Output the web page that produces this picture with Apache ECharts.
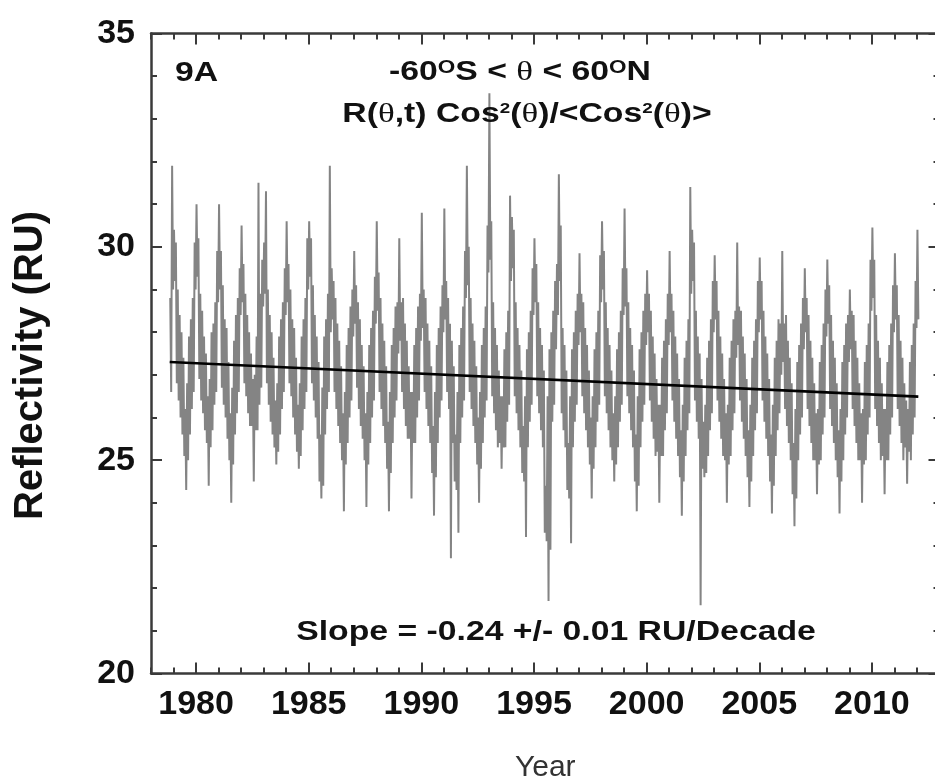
<!DOCTYPE html>
<html><head><meta charset="utf-8">
<script src="https://cdn.jsdelivr.net/npm/echarts@6/dist/echarts.min.js"></script>
<style>html,body{margin:0;padding:0;background:#fff}#c{width:935px;height:776px}</style>
</head><body><div id="c"></div>
<script>
const xTickLabels = [1980, 1985, 1990, 1995, 2000, 2005, 2010];
const yTickLabels = [20, 25, 30, 35];
const trendYears = [1978.83, 2012.06];
const trendValues = [27.30, 26.49];

// semi-monthly reflectivity values (RU)
const r1978 = [28.8,26.6, 31.9,29.0];
const r1979 = [30.4,29.2, 30.1,26.8, 29.0,26.4, 28.4,26.0, 28.0,25.6, 27.4,25.1, 26.2,24.3, 26.8,25.0, 27.9,25.6, 28.3,26.2, 28.8,26.6, 30.1,29.0];
const r1980 = [31.0,29.3, 30.2,26.9, 28.9,26.4, 28.5,26.1, 27.9,25.7, 27.5,25.4, 26.5,24.4, 26.9,25.3, 28.0,25.7, 28.2,26.3, 28.7,26.6, 29.9,28.7];
const r1981 = [31.0,29.0, 29.9,26.7, 29.1,26.3, 28.3,26.0, 28.1,25.5, 27.3,25.0, 26.1,24.0, 26.7,24.9, 27.8,25.6, 28.4,26.1, 28.8,26.6, 29.5,28.4];
const r1982 = [30.5,28.7, 29.6,26.8, 28.9,26.5, 28.4,26.1, 28.0,25.8, 27.5,25.8, 26.9,24.5, 27.0,25.7, 27.9,25.7, 31.5,26.3, 28.9,26.7, 29.7,28.6];
const r1983 = [30.1,28.9, 31.3,26.8, 29.0,26.3, 28.4,25.9, 28.0,25.6, 27.4,25.3, 26.4,24.9, 26.8,25.2, 27.9,25.6, 28.3,26.2, 28.7,26.6, 29.5,28.4];
const r1984 = [30.6,28.7, 29.6,26.8, 29.0,26.5, 28.3,26.0, 28.1,25.6, 27.4,25.2, 26.3,24.8, 26.8,25.1, 27.9,25.7, 28.3,26.2, 28.8,26.6, 30.2,29.0];
const r1985 = [30.6,29.3, 30.2,26.8, 29.1,26.4, 28.4,26.0, 27.9,25.5, 27.3,24.5, 25.6,24.1, 26.7,24.4, 27.9,25.6, 28.3,26.2, 28.9,26.6, 31.9,28.0];
const r1986 = [29.5,28.3, 29.2,26.6, 28.8,26.2, 28.2,25.8, 27.8,25.4, 27.2,25.0, 26.1,23.8, 26.6,24.9, 27.7,25.4, 28.1,26.0, 28.6,26.4, 29.0,27.9];
const r1987 = [29.9,28.2, 29.1,26.7, 28.7,26.2, 28.3,25.8, 27.7,25.5, 27.2,25.0, 26.1,23.9, 26.6,24.9, 27.7,25.4, 28.1,26.0, 28.5,26.4, 29.3,28.2];
const r1988 = [30.6,28.5, 29.4,26.6, 28.8,26.2, 28.2,25.8, 27.8,25.4, 27.2,24.8, 25.9,23.8, 26.6,24.7, 27.7,25.4, 28.1,26.0, 28.6,26.4, 28.7,27.5];
const r1989 = [30.2,27.8, 28.7,26.6, 28.8,26.2, 28.2,25.8, 27.8,25.5, 27.2,25.5, 26.6,24.1, 26.6,25.4, 27.7,25.4, 28.1,26.0, 28.6,26.4, 28.9,27.8];
const r1990 = [30.8,28.1, 29.0,26.6, 28.8,26.2, 28.2,25.8, 27.8,25.4, 27.2,24.7, 25.8,23.7, 26.6,24.6, 27.7,25.4, 28.1,26.0, 28.6,26.4, 29.1,28.0];
const r1991 = [30.9,28.3, 29.2,26.6, 28.8,26.2, 28.2,22.7, 27.8,25.4, 27.2,24.5, 25.6,24.3, 26.6,23.3, 27.7,25.4, 28.1,26.0, 28.6,26.4, 29.9,28.8];
const r1992 = [31.9,29.1, 30.0,26.6, 28.8,26.2, 28.2,25.8, 27.8,25.4, 27.2,24.9, 26.0,24.0, 26.6,24.8, 27.7,25.4, 28.1,26.0, 28.6,26.4, 30.5,29.4];
const r1993 = [33.6,29.7, 30.6,26.5, 28.7,26.1, 28.1,25.7, 27.7,25.3, 27.1,25.4, 26.5,24.8, 26.5,25.3, 27.6,25.3, 28.0,25.9, 28.5,26.3, 31.2,29.2];
const r1994 = [30.7,29.5, 30.4,26.5, 28.7,26.1, 28.1,25.7, 27.7,25.3, 27.1,24.7, 25.8,24.5, 26.5,23.2, 27.6,25.3, 28.0,25.9, 28.5,26.3, 29.5,28.4];
const r1995 = [30.2,28.7, 29.6,26.5, 28.7,26.1, 28.1,25.7, 27.7,25.3, 27.1,23.3, 24.4,23.1, 26.5,21.7, 27.6,22.9, 28.0,25.9, 28.5,26.3, 29.2,27.6];
const r1996 = [29.6,28.4, 31.7,29.2, 30.5,26.1, 28.1,25.7, 27.7,25.3, 27.1,24.3, 25.4,24.1, 26.5,23.05, 27.6,25.3, 28.0,25.9, 28.5,26.3, 28.9,27.7];
const r1997 = [29.85,28.0, 28.9,26.5, 28.7,26.1, 28.1,25.7, 27.7,25.3, 27.1,24.9, 26.0,24.1, 26.5,24.8, 27.6,25.3, 28.0,25.9, 28.5,26.3, 29.8,28.7];
const r1998 = [30.6,29.0, 29.9,26.5, 28.7,26.1, 28.1,25.7, 27.7,25.3, 27.1,25.0, 26.1,24.5, 26.5,24.9, 27.6,25.3, 28.0,25.9, 28.5,26.3, 29.5,28.4];
const r1999 = [30.9,28.6, 29.5,26.5, 28.7,26.1, 28.1,25.7, 27.7,25.3, 27.1,24.5, 25.6,23.8, 26.5,24.4, 27.6,25.3, 28.0,25.9, 28.5,26.3, 28.9,27.7];
const r2000 = [29.45,28.0, 28.9,26.4, 28.5,25.9, 27.9,25.5, 27.5,25.1, 26.9,25.2, 26.3,24.0, 26.3,25.1, 27.4,25.1, 27.8,25.7, 28.3,26.1, 28.9,27.7];
const r2001 = [29.9,28.0, 28.9,26.4, 28.5,25.9, 27.9,25.5, 27.5,25.1, 26.9,24.6, 25.7,23.7, 26.3,24.5, 27.4,25.1, 27.8,25.7, 28.3,26.1, 31.4,28.9];
const r2002 = [30.4,29.2, 30.1,26.4, 28.5,25.9, 27.9,25.5, 27.5,21.6, 26.9,24.8, 25.9,24.6, 26.3,24.7, 27.4,25.1, 27.8,25.7, 28.3,26.1, 29.2,28.0];
const r2003 = [29.8,28.3, 29.2,26.4, 28.5,25.9, 27.9,25.5, 27.5,25.1, 26.9,25.0, 26.1,24.0, 26.3,24.9, 27.4,25.1, 27.8,25.7, 28.3,26.1, 28.5,27.4];
const r2004 = [30.1,27.7, 28.6,26.4, 28.5,25.9, 27.9,25.5, 27.5,25.1, 26.9,24.6, 25.7,23.9, 26.3,24.5, 27.4,25.1, 27.8,25.7, 28.3,26.1, 29.2,28.0];
const r2005 = [29.75,28.3, 29.2,26.4, 28.5,25.9, 27.9,25.5, 27.5,25.1, 26.9,24.5, 25.6,23.75, 26.3,24.4, 27.4,25.1, 27.8,25.7, 28.3,26.1, 28.2,27.0];
const r2006 = [29.9,27.3, 28.2,26.2, 28.4,25.8, 27.8,25.4, 27.4,25.0, 26.8,24.2, 25.4,23.45, 26.2,24.1, 27.3,25.0, 27.7,25.6, 28.2,26.0, 28.8,27.6];
const r2007 = [29.5,28.0, 28.8,26.2, 28.4,25.8, 27.8,25.4, 27.4,25.0, 26.8,25.0, 26.1,24.2, 26.2,24.9, 27.3,25.0, 27.7,25.6, 28.2,26.0, 29.0,27.9];
const r2008 = [29.7,28.2, 29.1,26.2, 28.4,25.8, 27.8,25.4, 27.4,25.0, 26.8,24.6, 25.7,23.75, 26.2,24.5, 27.3,25.0, 27.7,25.6, 28.2,26.0, 28.4,27.3];
const r2009 = [29.0,27.6, 28.5,26.2, 28.4,25.8, 27.8,25.4, 27.4,25.0, 26.8,25.0, 26.1,24.0, 26.2,24.9, 27.3,25.0, 27.7,25.6, 28.2,26.0, 29.7,28.5];
const r2010 = [30.45,28.8, 29.7,26.2, 28.4,25.8, 27.8,25.4, 27.4,25.0, 26.8,25.1, 26.2,24.2, 26.2,25.0, 27.3,25.0, 27.7,25.6, 28.2,26.0, 29.1,28.0];
const r2011 = [29.85,28.3, 29.1,26.2, 28.4,25.8, 27.8,25.4, 27.4,25.0, 26.8,25.3, 26.4,24.45, 26.2,25.2, 27.3,25.0, 27.7,25.6, 28.2,26.0, 29.2,28.1];
const r2012 = [30.4,28.3];

// [year, first half-month slot, values]
const yearBlocks = [
  [1978,20,r1978],[1979,0,r1979],[1980,0,r1980],[1981,0,r1981],[1982,0,r1982],[1983,0,r1983],
  [1984,0,r1984],[1985,0,r1985],[1986,0,r1986],[1987,0,r1987],[1988,0,r1988],[1989,0,r1989],
  [1990,0,r1990],[1991,0,r1991],[1992,0,r1992],[1993,0,r1993],[1994,0,r1994],[1995,0,r1995],
  [1996,0,r1996],[1997,0,r1997],[1998,0,r1998],[1999,0,r1999],[2000,0,r2000],[2001,0,r2001],
  [2002,0,r2002],[2003,0,r2003],[2004,0,r2004],[2005,0,r2005],[2006,0,r2006],[2007,0,r2007],
  [2008,0,r2008],[2009,0,r2009],[2010,0,r2010],[2011,0,r2011],[2012,0,r2012]
];
const pts = [];
yearBlocks.forEach(([yr, start, vals]) => vals.forEach((v, i) => pts.push([yr + (start + i + 0.5) / 24, v])));

const FONT = '"Liberation Sans", Arial, sans-serif';
const SERIF = '"Liberation Serif", "Times New Roman", serif';
const AX = '#3a3a3a';
const lineSt = {color: AX, width: 2.5};
const tickSt = {color: AX, width: 2};
const X0 = 1978, X1 = 2013, Y0 = 20, Y1 = 35;

const chart = echarts.init(document.getElementById('c'), null, {renderer: 'canvas'});
const richBase = {
  sup: {fontSize: 18, fontWeight: 'bold', fontFamily: FONT, verticalAlign: 'top', lineHeight: 18},
  th: {fontSize: 28, fontWeight: 'normal', fontFamily: SERIF},
  sp: {fontSize: 15, fontWeight: 'bold', fontFamily: FONT, verticalAlign: 'top', lineHeight: 15}
};
function txt(text, x, y, align, weight) {
  return {
    type: 'text', x: x, y: y, scaleX: 1.25, z: 10,
    style: {
      text: text, x: 0, y: 0, fill: '#111',
      font: weight + ' 27px ' + FONT,
      align: align, textAlign: align, verticalAlign: 'middle', textVerticalAlign: 'middle',
      rich: richBase
    }
  };
}

chart.setOption({
  animation: false,
  backgroundColor: '#fff',
  grid: {left: 151, top: 33.5, width: 788.5, height: 640, outerBoundsMode: 'none', containLabel: false},
  xAxis: [
    {type: 'value', position: 'bottom', min: X0, max: X1, interval: 1,
     axisLine: {show: true, lineStyle: lineSt},
     axisTick: {show: true, inside: true, length: 6, lineStyle: tickSt},
     axisLabel: {show: true, customValues: xTickLabels, formatter: v => String(v),
                 fontSize: 34, fontWeight: 'bold', color: '#111', fontFamily: FONT, margin: 14},
     splitLine: {show: false},
     name: 'Year', nameLocation: 'middle', nameGap: 79,
     nameTextStyle: {fontSize: 30, color: '#333', fontFamily: FONT, verticalAlign: 'top'}},
    {type: 'value', position: 'bottom', min: X0, max: X1,
     axisLine: {show: false},
     axisTick: {show: true, inside: true, length: 11, customValues: xTickLabels, lineStyle: tickSt},
     axisLabel: {show: false}, splitLine: {show: false}},
    {type: 'value', position: 'top', min: X0, max: X1, interval: 1,
     axisLine: {show: true, lineStyle: lineSt},
     axisTick: {show: true, inside: true, length: 6, lineStyle: tickSt},
     axisLabel: {show: false}, splitLine: {show: false}},
    {type: 'value', position: 'top', min: X0, max: X1,
     axisLine: {show: false},
     axisTick: {show: true, inside: true, length: 11, customValues: xTickLabels, lineStyle: tickSt},
     axisLabel: {show: false}, splitLine: {show: false}}
  ],
  yAxis: [
    {type: 'value', position: 'left', min: Y0, max: Y1, interval: 5,
     axisLine: {show: true, lineStyle: lineSt},
     axisTick: {show: true, inside: true, length: 11, lineStyle: tickSt},
     minorTick: {show: true, splitNumber: 5, length: 6, lineStyle: tickSt},
     axisLabel: {show: true, customValues: yTickLabels, fontSize: 34, fontWeight: 'bold', color: '#111', fontFamily: FONT, margin: 16},
     splitLine: {show: false}, minorSplitLine: {show: false},
     name: 'Reflectivity (RU)', nameLocation: 'middle', nameGap: 100, nameRotate: 90,
     nameTextStyle: {fontSize: 40, fontWeight: 'bold', color: '#111', fontFamily: FONT, padding: [0, 24, 0, 0]}},
    {type: 'value', position: 'right', min: Y0, max: Y1, interval: 5,
     axisLine: {show: true, lineStyle: lineSt},
     axisTick: {show: true, inside: true, length: 11, lineStyle: tickSt},
     minorTick: {show: true, splitNumber: 5, length: 6, lineStyle: tickSt},
     axisLabel: {show: false}, splitLine: {show: false}, minorSplitLine: {show: false}}
  ],
  series: [
    {type: 'line', name: 'R', xAxisIndex: 0, yAxisIndex: 0, data: pts,
     showSymbol: false, symbol: 'none', silent: true, z: 2,
     lineStyle: {color: '#848484', width: 2, join: 'miter', miterLimit: 30}},
    {type: 'line', name: 'trend', xAxisIndex: 0, yAxisIndex: 0,
     data: trendYears.map((x, i) => [x, trendValues[i]]),
     showSymbol: false, symbol: 'none', silent: true, z: 3,
     lineStyle: {color: '#000', width: 2.6}}
  ],
  graphic: [
    txt('9A', 175, 74, 'left', 'bold'),
    txt('-60{sup|O}S < {th|θ} < 60{sup|O}N', 520, 73, 'center', 'bold'),
    txt('R({th|θ},t) Cos{sp|2}({th|θ})/<Cos{sp|2}({th|θ})>', 527, 115, 'center', 'bold'),
    txt('Slope = -0.24 +/- 0.01 RU/Decade', 556, 633, 'center', 'bold')
  ]
});
</script></body></html>
